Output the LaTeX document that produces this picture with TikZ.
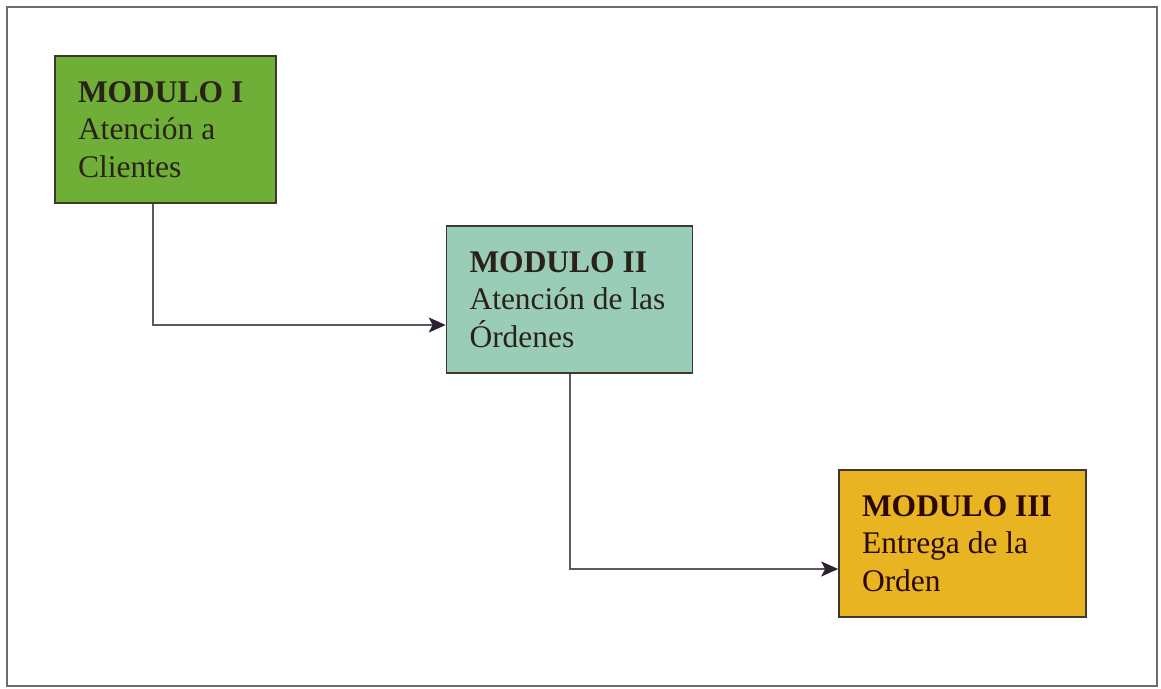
\documentclass[tikz,border=0pt]{standalone}
\usepackage{fontspec}
\setmainfont{Liberation Serif}
\usepackage{tikz}
\usetikzlibrary{arrows.meta,positioning}
\usepackage{xcolor}
\definecolor{Frame}{HTML}{6E6A70}
\definecolor{Ink}{HTML}{2A2218}
\definecolor{Leaf}{HTML}{6FAE37}
\definecolor{Sea}{HTML}{99CDB7}
\definecolor{Amber}{HTML}{E8B421}
\definecolor{Wire}{HTML}{5E5664}
\definecolor{Tip}{HTML}{2E2232}
\tikzset{
  modulo/.style={draw=Ink!90, line width=1.6pt, align=flush left, inner xsep=23pt, inner ysep=0pt, minimum height=147pt, text=Ink, font=\fontsize{31.5}{37.5}\selectfont},
  modverde/.style={modulo, fill=Leaf, text width=175pt},
  modagua/.style={modulo, fill=Sea, text width=200pt},
  modoro/.style={modulo, fill=Amber, text width=201pt, text=Ink!70!red!40!black},
  flecha/.style={-{Stealth[length=17pt, width=15pt, inset=4pt, color=Tip]}, line width=2pt, draw=Wire},
  marco/.style={draw=Frame, line width=2pt}
}
\begin{document}
\begin{tikzpicture}[x=1pt, y=-1pt]
\useasboundingbox (0,0) rectangle (1161,688);
\fill[white] (0,0) rectangle (1161,688);
\draw[marco] (7,7) rectangle (1157,686);
% modulos
\node[modverde] (m1) at (165.5,129.5) {\textbf{MODULO I}\\Atención a\\Clientes};
\node[modagua] (m2) at (569.5,299.5) {\textbf{MODULO II}\\\mbox{Atención de las}\\Órdenes};
\node[modoro] (m3) at (962.5,543.5) {\textbf{MODULO III}\\Entrega de la\\Orden};
% conexiones
\draw[flecha] ([xshift=-12.5pt]m1.south) |- ([yshift=-25.5pt]m2.west);
\draw[flecha] (m2.south) |- ([yshift=-25.5pt]m3.west);
\end{tikzpicture}
\end{document}
